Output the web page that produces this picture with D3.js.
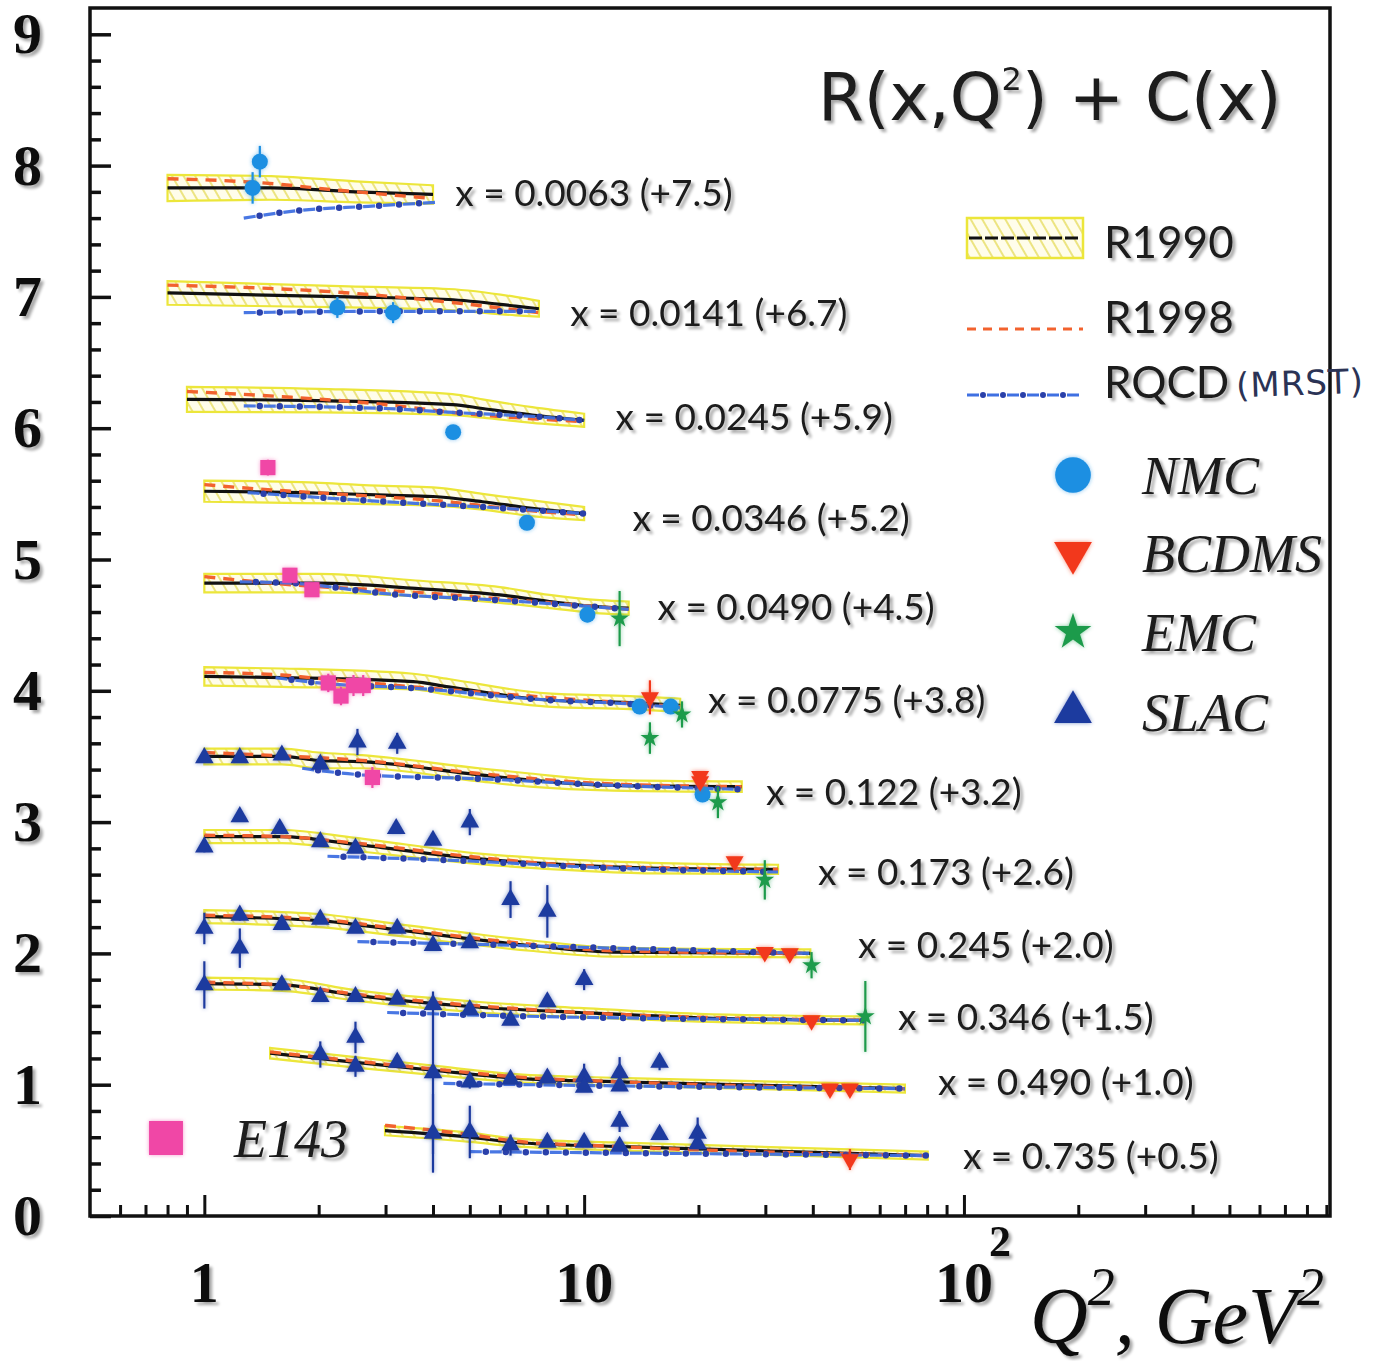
<!DOCTYPE html>
<html><head><meta charset="utf-8">
<script src="https://cdn.jsdelivr.net/npm/d3@7"></script>
<style>body{margin:0;background:#fff} svg{display:block}</style>
</head><body>
<svg id="c" width="1389" height="1361"></svg>
<script>
// ---------------- DATA ----------------
const binLabels = ["x = 0.0063 (+7.5)","x = 0.0141 (+6.7)","x = 0.0245 (+5.9)","x = 0.0346 (+5.2)",
  "x = 0.0490 (+4.5)","x = 0.0775 (+3.8)","x = 0.122 (+3.2)","x = 0.173 (+2.6)",
  "x = 0.245 (+2.0)","x = 0.346 (+1.5)","x = 0.490 (+1.0)","x = 0.735 (+0.5)"];
const labelQ2 = [4.58, 9.19, 12.1, 13.4, 15.6, 21.2, 30.1, 41.3, 52.6, 67.0, 85.4, 99.4];
const labelY  = [7.79, 6.88, 6.09, 5.32, 4.64, 3.93, 3.23, 2.62, 2.07, 1.52, 1.02, 0.46];

// R1990: [Q2, value, band half-width]
const r1990 = [
  [[0.8,7.83,0.10],[1.5,7.83,0.09],[2.5,7.80,0.08],[4.0,7.78,0.07]],
  [[0.8,7.03,0.09],[2.4,7.00,0.08],[4.4,6.98,0.08],[6.6,6.93,0.07],[7.6,6.91,0.06]],
  [[0.9,6.22,0.095],[2.0,6.21,0.09],[4.5,6.18,0.08],[5.4,6.15,0.07],[7.3,6.10,0.06],[10,6.06,0.05]],
  [[1.0,5.52,0.08],[1.8,5.51,0.08],[3.0,5.49,0.07],[4.0,5.48,0.07],[5.4,5.44,0.06],[7.3,5.39,0.06],[10,5.35,0.05]],
  [[1.0,4.82,0.07],[2.0,4.82,0.07],[3.6,4.78,0.06],[6.0,4.73,0.06],[8.1,4.68,0.05],[11,4.64,0.05],[13.1,4.63,0.05]],
  [[1.0,4.11,0.07],[1.6,4.10,0.07],[3.55,4.07,0.06],[4.4,4.03,0.06],[8.0,3.93,0.05],[13.2,3.91,0.05],[17.9,3.89,0.05]],
  [[1.0,3.50,0.06],[1.6,3.50,0.06],[2.0,3.47,0.06],[2.6,3.46,0.05],[5.3,3.36,0.05],[7.2,3.32,0.05],[11.9,3.28,0.04],[26,3.27,0.04]],
  [[1.0,2.89,0.05],[1.6,2.89,0.05],[2.5,2.83,0.05],[5.3,2.72,0.04],[9.7,2.67,0.04],[15,2.65,0.04],[32.4,2.64,0.035]],
  [[1.0,2.28,0.05],[2.0,2.25,0.05],[3.2,2.18,0.045],[7.2,2.06,0.04],[11.9,2.01,0.035],[39.4,2.00,0.03]],
  [[1.0,1.77,0.045],[1.6,1.76,0.045],[2.5,1.68,0.04],[5.3,1.59,0.04],[9.7,1.55,0.035],[20,1.51,0.03],[54.3,1.49,0.03]],
  [[1.49,1.24,0.04],[2.5,1.17,0.04],[4.0,1.11,0.035],[6.6,1.05,0.03],[13,1.02,0.03],[69.9,0.97,0.03]],
  [[2.99,0.65,0.035],[5.0,0.60,0.035],[6.6,0.56,0.03],[12,0.53,0.03],[80.3,0.46,0.03]]
];
// R1998: [Q2, value]
const r1998 = [
  [[0.8,7.90],[1.4,7.87],[2.3,7.81],[4.0,7.75]],
  [[0.8,7.09],[2.4,7.03],[4.4,6.96],[7.6,6.88]],
  [[0.9,6.28],[1.6,6.24],[3.0,6.18],[4.5,6.12],[10,6.05]],
  [[1.0,5.57],[1.5,5.53],[2.5,5.49],[4.0,5.45],[7.3,5.37],[10,5.34]],
  [[1.0,4.87],[1.5,4.82],[3.6,4.75],[8.1,4.67],[13.1,4.62]],
  [[1.0,4.14],[1.6,4.12],[1.9,4.10],[3.55,4.03],[8.0,3.95],[17.9,3.88]],
  [[1.0,3.53],[2.0,3.49],[2.6,3.47],[5.3,3.37],[11.9,3.29],[26,3.27]],
  [[1.0,2.90],[1.6,2.89],[2.5,2.84],[5.3,2.73],[9.7,2.67],[32.4,2.64]],
  [[1.0,2.29],[2.0,2.26],[3.2,2.19],[7.2,2.07],[11.9,2.02],[39.4,2.00]],
  [[1.0,1.78],[1.6,1.76],[2.5,1.69],[5.3,1.60],[9.7,1.55],[54.3,1.49]],
  [[1.49,1.25],[2.5,1.18],[4.0,1.12],[6.6,1.06],[13,1.02],[69.9,0.97]],
  [[2.99,0.69],[5.0,0.62],[6.6,0.57],[12,0.53],[80.3,0.46]]
];
// RQCD (MRST): [Q2, value]
const rqcd = [
  [[1.27,7.60],[1.8,7.66],[2.7,7.69],[4.05,7.72]],
  [[1.27,6.88],[3.0,6.89],[7.6,6.89]],
  [[1.27,6.17],[3.0,6.15],[4.5,6.12],[7.3,6.09],[10,6.06]],
  [[1.3,5.51],[3.0,5.44],[5.4,5.40],[10,5.35]],
  [[1.24,4.83],[1.7,4.82],[3.0,4.74],[6.0,4.69],[13.1,4.62]],
  [[1.54,4.10],[2.0,4.06],[3.55,4.02],[8.0,3.93],[13.2,3.90],[17.9,3.87]],
  [[1.81,3.41],[2.6,3.36],[5.3,3.33],[11.9,3.28],[26,3.25]],
  [[2.11,2.74],[5.3,2.70],[9.7,2.66],[32.4,2.62]],
  [[2.53,2.09],[5.0,2.07],[11.9,2.04],[39.4,2.00]],
  [[3.03,1.55],[5.3,1.53],[54.3,1.49]],
  [[4.26,1.01],[13,0.99],[69.9,0.97]],
  [[5.0,0.49],[80.3,0.46]]
];
// data points: [Q2, value (shifted), error]
const nmc = [[1.40,8.03,0.12],[1.34,7.83,0.12],[2.24,6.92,0.08],[3.14,6.88,0.08],[4.52,5.97,0.05],
  [7.07,5.28,0.05],[10.2,4.58,0.04],[14.0,3.88,0.05],[16.9,3.88,0.05],[20.5,3.21,0.04]];
const bcdms = [[14.9,3.95,0.13],[20.2,3.35,0.03],[20.2,3.31,0.03],[24.9,2.70,0.03],[29.9,2.01,0.03],
  [34.8,2.00,0.03],[39.7,1.49,0.03],[44.4,0.97,0.03],[50.1,0.97,0.03],[50.1,0.43,0.08]];
const emc = [[12.4,4.55,0.21],[14.9,3.64,0.12],[18.1,3.82,0.10],[22.5,3.15,0.12],[29.9,2.56,0.15],
  [39.7,1.91,0.10],[55,1.52,0.27]];
const slac = [
  [1.0,3.49,0],[1.24,3.49,0],[1.60,3.51,0],[2.02,3.44,0],[2.53,3.61,0.1],[3.22,3.60,0.08],
  [1.0,2.81,0.04],[1.24,3.04,0],[1.58,2.95,0],[2.02,2.85,0],[2.5,2.80,0],[3.2,2.95,0.03],[4.0,2.86,0],[5.0,3.00,0.1],[6.4,2.41,0.14],[8.0,2.32,0.2],
  [1.0,2.19,0.12],[1.24,2.29,0.04],[1.24,2.04,0.15],[1.6,2.22,0],[2.02,2.26,0],[2.5,2.19,0],[3.22,2.19,0],[4.0,2.06,0],[5.0,2.08,0],[10.0,1.80,0.08],
  [1.0,1.76,0.18],[1.6,1.76,0.04],[2.02,1.67,0],[2.5,1.67,0],[3.22,1.65,0],[4.0,1.61,0],[5.0,1.57,0],[6.4,1.49,0],[8.0,1.63,0],
  [2.02,1.23,0.1],[2.5,1.36,0.12],[2.5,1.14,0.08],[3.22,1.17,0],[4.0,1.09,0.62],[5.0,1.02,0.05],[6.4,1.04,0],[8.0,1.05,0],[10.0,1.06,0.1],[10.0,0.98,0],[12.4,1.09,0.12],[12.4,0.99,0],[15.8,1.17,0.06],
  [4.0,0.63,0.3],[5.0,0.64,0.2],[6.4,0.54,0.08],[8.0,0.56,0],[10.0,0.56,0],[12.4,0.53,0],[12.4,0.72,0.08],[15.8,0.62,0],[19.9,0.63,0.12],[19.9,0.55,0]
];
const e143 = [[1.47,5.70,0.06],[1.68,4.88,0.04],[1.92,4.77,0.04],[2.12,4.06,0.07],[2.29,3.96,0.07],
  [2.47,4.04,0.08],[2.62,4.04,0.08],[2.77,3.34,0.08]];

const yMajorTicks = [0,1,2,3,4,5,6,7,8,9];
const xMajorTicks = [1,10,100];
const xTickText = ["1","10","10"];
const xTickSup = ["","","2"];
const curveNames = ["R1990","R1998","RQCD"];
const expNames = ["NMC","BCDMS","EMC","SLAC"];

// ---------------- CHART ----------------
const svg = d3.select("#c");
const L = 90, R = 1330, T = 8, B = 1216;
const x = d3.scaleLog().domain([0.5, 920]).range([L, R]);
const y = d3.scaleLinear().domain([0, 9]).range([B, 34.3]);

const defs = svg.append("defs");
const pat = defs.append("pattern").attr("id","hatch").attr("patternUnits","userSpaceOnUse")
  .attr("width",10).attr("height",10).attr("patternTransform","rotate(-30)");
pat.append("rect").attr("width",10).attr("height",10).attr("fill","#fffdea");
pat.append("line").attr("x1",1).attr("y1",0).attr("x2",1).attr("y2",10)
  .attr("stroke","#e4da55").attr("stroke-width",1.4);

const ts = defs.append("filter").attr("id","ts").attr("x","-10%").attr("y","-30%").attr("width","130%").attr("height","170%");
ts.append("feGaussianBlur").attr("in","SourceAlpha").attr("stdDeviation",1.8);
ts.append("feOffset").attr("dx",2.5).attr("dy",2.5);
ts.append("feComponentTransfer").append("feFuncA").attr("type","linear").attr("slope",0.35);
const tm = ts.append("feMerge"); tm.append("feMergeNode"); tm.append("feMergeNode").attr("in","SourceGraphic");

const gl = defs.append("filter").attr("id","glow").attr("x","-60%").attr("y","-60%").attr("width","220%").attr("height","220%");
gl.append("feGaussianBlur").attr("in","SourceGraphic").attr("stdDeviation",2.2).attr("result","b");
gl.append("feComponentTransfer").attr("in","b").attr("result","b2").append("feFuncA").attr("type","linear").attr("slope",0.55);
const gm = gl.append("feMerge"); gm.append("feMergeNode").attr("in","b2"); gm.append("feMergeNode").attr("in","SourceGraphic");

const C = {nmc:"#1b8fe2", bcdms:"#f2391c", emc:"#1f9b4c", slac:"#1f3a9f", e143:"#f046a6",
  band:"#ece63a", black:"#111", red:"#f2622e", qcd:"#3f70e2", qcdDot:"#2a40aa"};

// axes ticks
function noDomain(g){ g.select(".domain").remove(); }
const yMinor = d3.range(0, 9.2, 0.2).filter(v => Math.abs(v - Math.round(v)) > 1e-6);
svg.append("g").attr("transform",`translate(${L},0)`)
  .call(d3.axisLeft(y).tickValues(yMinor).tickSize(-11).tickFormat(""))
  .call(noDomain).selectAll("line").attr("stroke","#111").attr("stroke-width",3.5);
const yMaj = svg.append("g").attr("transform",`translate(${L},0)`)
  .call(d3.axisLeft(y).tickValues(yMajorTicks).tickSize(-21).tickPadding(48).tickFormat(d3.format("d")))
  .call(noDomain);
yMaj.selectAll("line").attr("stroke","#111").attr("stroke-width",3.5);
yMaj.selectAll("text").attr("font-family","'Liberation Serif',serif").attr("font-weight","bold")
  .attr("font-size",58).attr("fill","#111").attr("filter","url(#ts)");

const xMinor = [];
[0.1,1,10,100].forEach(d => { for (let k=2;k<=9;k++){ const v=d*k; if (v>0.5 && v<920) xMinor.push(v);} });
svg.append("g").attr("transform",`translate(0,${B})`)
  .call(d3.axisBottom(x).tickValues(xMinor).tickSize(-11).tickFormat(""))
  .call(noDomain).selectAll("line").attr("stroke","#111").attr("stroke-width",3);
svg.append("g").attr("transform",`translate(0,${B})`)
  .call(d3.axisBottom(x).tickValues(xMajorTicks).tickSize(-21).tickFormat(""))
  .call(noDomain).selectAll("line").attr("stroke","#111").attr("stroke-width",3);

const xl = svg.append("g").attr("font-family","'Liberation Serif',serif").attr("font-weight","bold")
  .attr("fill","#111").attr("filter","url(#ts)");
const xt = xl.selectAll("text.t").data(xMajorTicks).join("text").attr("class","t")
  .attr("x", d => x(d)).attr("y", 1302).attr("text-anchor","middle").attr("font-size",58);
xt.append("tspan").text((d,i) => xTickText[i]);
xt.filter((d,i) => xTickSup[i]).append("tspan")
  .attr("x", d => x(d)+36).attr("y", 1256).attr("font-size",44)
  .text(d => xTickSup[xMajorTicks.indexOf(d)]);

// axis title
const at = svg.append("text").attr("x",1030).attr("y",1343).attr("font-family","'Liberation Serif',serif")
  .attr("font-style","italic").attr("font-size",80).attr("fill","#111").attr("filter","url(#ts)");
at.append("tspan").text("Q");
at.append("tspan").attr("font-size",54).attr("dy",-38).text("2");
at.append("tspan").attr("dy",38).text(", GeV");
at.append("tspan").attr("font-size",54).attr("dy",-38).text("2");

// frame
svg.append("rect").attr("x",L).attr("y",T).attr("width",R-L).attr("height",B-T)
  .attr("fill","none").attr("stroke","#111").attr("stroke-width",3.5);

// curves
const line = d3.line().x(d => x(d[0])).y(d => y(d[1])).curve(d3.curveMonotoneX);
const area = d3.area().x(d => x(d[0])).y0(d => y(d[1]-d[2])).y1(d => y(d[1]+d[2])).curve(d3.curveMonotoneX);
const cg = svg.append("g");
r1990.forEach((b,i) => {
  cg.append("path").attr("d", area(b)).attr("fill","url(#hatch)").attr("stroke",C.band).attr("stroke-width",2.2);
});
r1990.forEach(b => {
  cg.append("path").attr("d", line(b)).attr("fill","none").attr("stroke",C.black).attr("stroke-width",3.2);
});
r1998.forEach(b => {
  cg.append("path").attr("d", line(b)).attr("fill","none").attr("stroke",C.red).attr("stroke-width",3.4)
    .attr("stroke-dasharray","11 8");
});
rqcd.forEach(b => {
  cg.append("path").attr("d", line(b)).attr("fill","none").attr("stroke",C.qcd).attr("stroke-width",3.2)
    .attr("stroke-dasharray","12 8").attr("opacity",0.95);
  cg.append("path").attr("d", line(b)).attr("fill","none").attr("stroke",C.qcdDot).attr("stroke-width",6.5)
    .attr("stroke-linecap","round").attr("stroke-dasharray","0 20").attr("stroke-dashoffset",4);
});

// bin labels
svg.append("g").attr("font-family","Lato,'Open Sans',sans-serif").attr("font-size",37).attr("fill","#1a1a1a")
  .attr("filter","url(#ts)")
  .selectAll("text").data(binLabels).join("text")
  .attr("x",(d,i) => x(labelQ2[i])).attr("y",(d,i) => y(labelY[i])).attr("dy","0.36em").text(d => d);

// data points
function drawSet(data, color, type, size, rotate) {
  const g = svg.append("g").attr("filter","url(#glow)");
  g.selectAll("line").data(data.filter(d => d[2] > 0)).join("line")
    .attr("x1", d => x(d[0])).attr("x2", d => x(d[0]))
    .attr("y1", d => y(d[1]-d[2])).attr("y2", d => y(d[1]+d[2]))
    .attr("stroke", color).attr("stroke-width", 2.2);
  g.selectAll("path").data(data).join("path")
    .attr("d", d3.symbol().type(type).size(size))
    .attr("transform", d => `translate(${x(d[0])},${y(d[1])})` + (rotate ? " rotate(180)" : ""))
    .attr("fill", color);
}
drawSet(e143, C.e143, d3.symbolSquare, 230, false);
drawSet(slac, C.slac, d3.symbolTriangle, 150, false);
drawSet(nmc, C.nmc, d3.symbolCircle, 200, false);
drawSet(bcdms, C.bcdms, d3.symbolTriangle, 140, true);
drawSet(emc, C.emc, d3.symbolStar, 110, false);

// title
const tt = svg.append("text").attr("x",818).attr("y",120).attr("font-family","'DejaVu Sans',sans-serif")
  .attr("font-size",66).attr("fill","#1a1a1a").attr("filter","url(#ts)");
tt.append("tspan").text("R(x,Q");
tt.append("tspan").attr("font-size",32).attr("dy",-30).text("2");
tt.append("tspan").attr("dy",30).text(") + C(x)");

// legend: curves
const lg = svg.append("g");
lg.append("rect").attr("x",967).attr("y",218).attr("width",116).attr("height",40)
  .attr("fill","url(#hatch)").attr("stroke",C.band).attr("stroke-width",2.5);
lg.append("line").attr("x1",969).attr("x2",1081).attr("y1",238).attr("y2",238)
  .attr("stroke",C.black).attr("stroke-width",3).attr("stroke-dasharray","13 3");
lg.append("line").attr("x1",967).attr("x2",1083).attr("y1",329).attr("y2",329)
  .attr("stroke",C.red).attr("stroke-width",3).attr("stroke-dasharray","9 7");
lg.append("line").attr("x1",967).attr("x2",1083).attr("y1",395).attr("y2",395)
  .attr("stroke",C.qcd).attr("stroke-width",3).attr("stroke-dasharray","12 8");
lg.append("line").attr("x1",967).attr("x2",1083).attr("y1",395).attr("y2",395)
  .attr("stroke",C.qcdDot).attr("stroke-width",6).attr("stroke-linecap","round")
  .attr("stroke-dasharray","0 20").attr("stroke-dashoffset",4);
lg.selectAll("text.c").data(curveNames).join("text").attr("class","c")
  .attr("x",1104).attr("y",(d,i) => [258,333,398][i])
  .attr("font-family","Lato,'Open Sans',sans-serif").attr("font-size",44).attr("fill","#1a1a1a")
  .attr("filter","url(#ts)").text(d => d);
lg.append("text").attr("x",1236).attr("y",395).attr("font-family","'DejaVu Sans',sans-serif")
  .attr("font-size",34).attr("letter-spacing",1).attr("fill","#2b3355")
  .attr("transform","rotate(-2,1300,380)").text("(MRST)");

// legend: experiments
const expColors = [C.nmc, C.bcdms, C.emc, C.slac];
const expTypes = [d3.symbolCircle, d3.symbolTriangle, d3.symbolStar, d3.symbolTriangle];
const expSizes = [1000, 620, 420, 620];
const expY = [475, 553, 632, 712];
const eg = svg.append("g");
eg.selectAll("path").data(expNames).join("path")
  .attr("d",(d,i) => d3.symbol().type(expTypes[i]).size(expSizes[i])())
  .attr("transform",(d,i) => `translate(1073,${expY[i]})` + (i===1 ? " rotate(180)" : ""))
  .attr("fill",(d,i) => expColors[i]).attr("filter","url(#glow)");
eg.selectAll("text").data(expNames).join("text")
  .attr("x",1142).attr("y",(d,i) => expY[i]+19)
  .attr("font-family","'Liberation Serif',serif").attr("font-style","italic").attr("font-size",54)
  .attr("fill","#1a1a1a").attr("filter","url(#ts)").text(d => d);
svg.append("path").attr("d", d3.symbol().type(d3.symbolSquare).size(1150)())
  .attr("transform","translate(166,1138)").attr("fill",C.e143).attr("filter","url(#glow)");
svg.append("text").attr("x",234).attr("y",1157).attr("font-family","'Liberation Serif',serif")
  .attr("font-style","italic").attr("font-size",54).attr("fill","#1a1a1a").attr("filter","url(#ts)").text("E143");
</script>
</body></html>
